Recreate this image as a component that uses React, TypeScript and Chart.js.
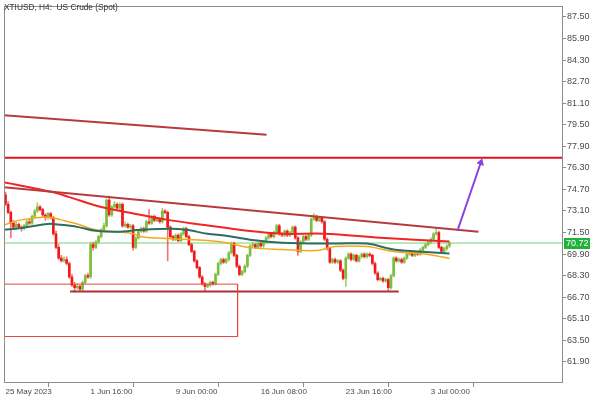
import React, { useEffect, useRef } from "react";
import { Chart, registerables } from "chart.js";

Chart.register(...registerables);

const chartTitle = "XTIUSD, H4:  US Crude (Spot)";

// time axis: bar index of each labelled tick and its text
const timeTickIndex = [0, 32, 64, 96, 128, 160];
const timeTickLabels = ["25 May 2023", "1 Jun 16:00", "9 Jun 00:00", "16 Jun 08:00", "23 Jun 16:00", "3 Jul 00:00"];

// price axis tick values
const priceTicks = [87.5, 85.9, 84.3, 82.7, 81.1, 79.5, 77.9, 76.3, 74.7, 73.1, 71.5, 69.9, 68.3, 66.7, 65.1, 63.5, 61.9];

// H4 candles
const opens = [
  74.3, 73.6, 73.0, 72.2, 71.9, 72.1, 71.9, 71.8, 72.0, 72.3, 72.2, 72.7, 73.1, 73.4, 73.2, 72.8, 72.6, 72.9, 72.6, 71.4,
  70.4, 69.6, 69.4, 69.5, 69.2, 68.2, 67.6, 67.4, 67.5, 67.3, 67.8, 68.3, 68.2, 70.6, 70.4, 70.8, 71.2, 71.7, 72.0, 73.9,
  72.8, 73.4, 73.6, 73.3, 73.6, 72.0, 72.1, 71.9, 72.0, 70.4, 71.1, 71.6, 71.8, 71.6, 72.3, 72.2, 72.7, 72.4, 72.5, 72.3,
  73.1, 73.0, 71.9, 71.2, 71.0, 71.3, 70.9, 71.4, 71.8, 71.2, 70.6, 70.1, 69.4, 68.9, 68.2, 67.7, 67.5, 67.6, 67.8, 67.7,
  68.4, 69.2, 69.5, 69.3, 69.5, 70.0, 70.7, 69.8, 69.0, 68.4, 68.6, 69.0, 69.8, 70.5, 70.6, 70.4, 70.7, 70.5, 70.8, 71.1,
  71.4, 71.2, 71.5, 72.0, 71.4, 71.3, 71.6, 71.3, 71.5, 71.9, 71.1, 70.1, 70.8, 71.2, 71.0, 71.3, 72.5, 72.7, 72.4, 72.6,
  72.3, 71.0, 70.3, 69.3, 69.5, 69.3, 69.4, 68.7, 68.1, 69.6, 69.9, 69.5, 69.8, 69.4, 69.7, 69.9, 69.7, 69.9, 69.8, 69.2,
  68.5, 68.0, 68.1, 67.9, 68.0, 67.4, 68.3, 69.6, 69.4, 69.5, 69.3, 69.6, 69.9, 70.0, 69.8, 70.0, 69.9, 70.2, 70.4, 70.6,
  70.8, 71.0, 71.4, 71.5, 70.4, 70.1, 70.3, 70.5,
];
const highs = [
  74.5, 73.8, 73.1, 72.4, 72.3, 72.2, 72.0, 72.1, 72.4, 72.5, 72.8, 73.2, 73.7, 73.5, 73.3, 72.9, 73.0, 73.0, 72.7, 71.6,
  70.6, 69.8, 69.7, 69.7, 69.3, 68.4, 67.8, 67.7, 67.6, 67.9, 68.4, 68.5, 70.8, 70.8, 70.9, 71.3, 71.8, 72.2, 74.0, 74.2,
  73.5, 73.8, 73.7, 73.7, 73.7, 72.3, 72.2, 72.1, 72.1, 71.2, 71.7, 71.9, 71.9, 72.4, 73.2, 72.8, 72.8, 72.6, 72.6, 73.3,
  73.2, 73.1, 72.0, 71.3, 71.4, 71.4, 71.5, 71.9, 71.9, 71.3, 70.7, 70.2, 69.5, 69.0, 68.3, 67.8, 67.7, 67.9, 67.9, 68.5,
  69.3, 69.6, 69.6, 69.6, 70.1, 70.8, 70.8, 69.9, 69.1, 68.7, 69.1, 69.9, 70.6, 70.8, 70.7, 70.8, 70.8, 70.9, 71.2, 71.5,
  71.5, 71.6, 72.1, 72.1, 71.5, 71.7, 71.7, 71.6, 72.0, 72.0, 71.2, 70.9, 71.3, 71.3, 71.4, 72.6, 72.9, 72.8, 72.7, 72.7,
  72.4, 71.1, 70.4, 69.6, 69.6, 69.5, 69.5, 68.8, 69.7, 70.0, 70.0, 69.9, 69.9, 69.8, 70.0, 70.0, 70.0, 70.0, 69.9, 69.3,
  68.6, 68.2, 68.2, 68.1, 68.1, 68.4, 69.7, 69.7, 69.6, 69.6, 69.7, 70.0, 70.1, 70.1, 70.1, 70.1, 70.3, 70.5, 70.7, 70.9,
  71.1, 71.5, 71.8, 71.6, 70.5, 70.4, 70.6, 70.8,
];
const lows = [
  73.5, 72.9, 71.1, 71.8, 71.8, 71.8, 71.6, 71.7, 71.9, 72.1, 72.1, 72.6, 73.0, 73.1, 72.7, 72.4, 72.5, 72.5, 71.3, 70.3,
  69.5, 69.3, 69.3, 69.1, 68.1, 67.5, 67.1, 67.3, 67.2, 67.2, 67.7, 68.1, 68.1, 70.2, 70.3, 70.7, 71.1, 71.6, 71.9, 72.7,
  72.7, 73.3, 73.2, 73.2, 71.9, 71.9, 71.8, 71.8, 70.2, 70.3, 71.0, 71.5, 71.5, 71.5, 72.1, 72.1, 72.3, 72.3, 72.2, 72.2,
  72.9, 69.4, 71.1, 70.9, 70.9, 70.8, 70.8, 71.3, 71.1, 70.5, 70.0, 69.3, 68.8, 68.1, 67.6, 67.15, 67.4, 67.5, 67.6, 67.6,
  68.3, 69.1, 69.2, 69.2, 69.4, 69.9, 69.7, 68.9, 68.3, 68.3, 68.5, 68.9, 69.7, 70.4, 70.3, 70.3, 70.4, 70.4, 70.7, 71.0,
  71.1, 71.1, 71.4, 71.3, 71.2, 71.2, 71.2, 71.2, 71.4, 71.0, 69.8, 70.0, 70.7, 70.9, 70.9, 71.2, 72.4, 72.3, 72.3, 72.2,
  70.9, 70.2, 69.2, 69.2, 69.2, 69.2, 68.6, 68.0, 67.5, 69.5, 69.4, 69.4, 69.3, 69.3, 69.6, 69.6, 69.6, 69.7, 69.1, 68.4,
  67.9, 67.9, 67.8, 67.8, 67.15, 67.3, 68.2, 69.3, 69.3, 69.2, 69.2, 69.5, 69.8, 69.7, 69.7, 69.8, 69.8, 70.1, 70.3, 70.5,
  70.7, 70.9, 71.3, 70.3, 70.0, 70.0, 70.2, 70.4,
];
const closes = [
  73.6, 73.0, 72.2, 71.9, 72.1, 71.9, 71.8, 72.0, 72.3, 72.2, 72.7, 73.1, 73.4, 73.2, 72.8, 72.6, 72.9, 72.6, 71.4, 70.4,
  69.6, 69.4, 69.5, 69.2, 68.2, 67.6, 67.4, 67.5, 67.3, 67.8, 68.3, 68.2, 70.6, 70.4, 70.8, 71.2, 71.7, 72.0, 73.9, 72.8,
  73.4, 73.6, 73.3, 73.6, 72.0, 72.1, 71.9, 72.0, 70.4, 71.1, 71.6, 71.8, 71.6, 72.3, 72.2, 72.7, 72.4, 72.5, 72.3, 73.1,
  73.0, 71.9, 71.2, 71.0, 71.3, 70.9, 71.4, 71.8, 71.2, 70.6, 70.1, 69.4, 68.9, 68.2, 67.7, 67.5, 67.6, 67.8, 67.7, 68.4,
  69.2, 69.5, 69.3, 69.5, 70.0, 70.7, 69.8, 69.0, 68.4, 68.6, 69.0, 69.8, 70.5, 70.6, 70.4, 70.7, 70.5, 70.8, 71.1, 71.4,
  71.2, 71.5, 72.0, 71.4, 71.3, 71.6, 71.3, 71.5, 71.9, 71.1, 70.1, 70.8, 71.2, 71.0, 71.3, 72.5, 72.7, 72.4, 72.6, 72.3,
  71.0, 70.3, 69.3, 69.5, 69.3, 69.4, 68.7, 68.1, 69.6, 69.9, 69.5, 69.8, 69.4, 69.7, 69.9, 69.7, 69.9, 69.8, 69.2, 68.5,
  68.0, 68.1, 67.9, 68.0, 67.4, 68.3, 69.6, 69.4, 69.5, 69.3, 69.6, 69.9, 70.0, 69.8, 70.0, 69.9, 70.2, 70.4, 70.6, 70.8,
  71.0, 71.4, 71.5, 70.4, 70.1, 70.3, 70.5, 70.72,
];

// moving averages (sampled at bar indices)
const redMaIndex = [-1, 18, 24, 36, 49, 61, 74, 91, 104, 120, 141, 167];
const redMaValue = [75.25, 74.49, 74.13, 73.39, 72.88, 72.44, 72.08, 71.63, 71.41, 71.41, 71.12, 70.83];
const tealMaIndex = [-1, 6, 16, 21, 27, 34, 42, 51, 62, 68, 76, 83, 92, 104, 124, 136, 146, 155, 167];
const tealMaValue = [71.69, 71.84, 72.14, 72.07, 71.92, 71.63, 71.56, 71.7, 71.78, 71.7, 71.41, 71.26, 70.97, 70.75, 70.68, 70.68, 70.24, 70.09, 69.94];
const orangeMaIndex = [-1, 6, 16, 21, 27, 34, 42, 48, 51, 62, 76, 83, 92, 104, 117, 124, 136, 146, 159, 167];
const orangeMaValue = [72.04, 72.44, 72.66, 72.44, 72.14, 71.7, 71.56, 71.41, 71.19, 71.04, 70.9, 70.75, 70.38, 70.24, 70.16, 70.46, 70.46, 70.09, 69.87, 69.58];

// drawn objects
const upperLineIndex = [-1, 98.2];
const upperLineValue = [80.22, 78.75];
const trendLineIndex = [-1, 177.9];
const trendLineValue = [74.87, 71.56];
const resistanceLevel = 77.06;
const supportIndex = [24.3, 147.9];
const supportLevel = 67.13;
const boxIndex = [-1, 87.3];
const boxTop = 67.67;
const boxBottom = 63.78;
const arrowIndex = [170.0, 178.8];
const arrowValue = [71.63, 76.7];

const X_MIN = -0.375;
const X_MAX = 209.7;
const Y_MIN = 60.332;
const Y_MAX = 88.285;

const BULL = "#7cbf3c";
const BEAR = "#f01818";
const BULL_WICK = "rgba(124,191,60,0.75)";
const BEAR_WICK = "rgba(240,24,24,0.6)";
const FRAME = "#8c8c8c";
const FONT = "'Liberation Sans', Arial, sans-serif";

const pts = (xs: number[], ys: number[]) => xs.map((x, i) => ({ x, y: ys[i] }));

export default function App() {
  const ref = useRef<HTMLCanvasElement | null>(null);

  useEffect(() => {
    if (!ref.current) return;
    const bid = closes[closes.length - 1];

    const overlay = {
      id: "mt4overlay",
      afterDraw(chart: any) {
        const { ctx, chartArea } = chart;
        const ys = chart.scales.y;
        ctx.save();
        // frame
        ctx.strokeStyle = FRAME;
        ctx.lineWidth = 1;
        const l = Math.floor(chartArea.left) + 0.5;
        const t = Math.floor(chartArea.top) + 0.5;
        const r = Math.round(chartArea.right) - 0.5;
        const b = Math.round(chartArea.bottom) - 0.5;
        ctx.strokeRect(l, t, r - l, b - t);
        // title
        ctx.fillStyle = "#333";
        ctx.font = `8.3px ${FONT}`;
        ctx.textBaseline = "top";
        ctx.textAlign = "left";
        ctx.fillText(chartTitle, 4, 4);
        // bid label
        const py = Math.round(ys.getPixelForValue(bid));
        ctx.fillStyle = "#1fb33a";
        ctx.fillRect(Math.round(chartArea.right) + 1, py - 5, 26, 11);
        ctx.fillStyle = "#ffffff";
        ctx.font = `9px ${FONT}`;
        ctx.textBaseline = "middle";
        ctx.fillText(bid.toFixed(2), Math.round(chartArea.right) + 3, py + 0.5);
        ctx.restore();
      },
    };

    const chart = new Chart(ref.current, {
      type: "line",
      data: {
        datasets: [
          {
            type: "line",
            data: pts([X_MIN - 1, X_MAX + 1], [bid, bid]),
            borderColor: "#74d174",
            borderWidth: 1,
            pointRadius: 0,
            order: 9,
          } as any,
          {
            type: "bar",
            data: closes.map((c, i) => ({ x: i, y: [lows[i], highs[i]] })),
            backgroundColor: closes.map((c, i) => (c >= opens[i] ? BULL_WICK : BEAR_WICK)),
            barThickness: 1,
            grouped: false,
            order: 8,
          } as any,
          {
            type: "bar",
            data: closes.map((c, i) => ({ x: i, y: [opens[i], c] })),
            backgroundColor: closes.map((c, i) => (c >= opens[i] ? BULL : BEAR)),
            barThickness: 2,
            grouped: false,
            order: 7,
          } as any,
          {
            type: "line",
            data: pts(orangeMaIndex, orangeMaValue),
            borderColor: "#f5a81c",
            borderWidth: 1.5,
            pointRadius: 0,
            tension: 0.35,
            order: 6,
          } as any,
          {
            type: "line",
            data: pts(tealMaIndex, tealMaValue),
            borderColor: "#2c6e60",
            borderWidth: 2,
            pointRadius: 0,
            tension: 0.35,
            order: 5,
          } as any,
          {
            type: "line",
            data: pts(redMaIndex, redMaValue),
            borderColor: "#f22424",
            borderWidth: 2,
            pointRadius: 0,
            tension: 0.35,
            order: 4,
          } as any,
          {
            type: "line",
            data: pts(trendLineIndex, trendLineValue),
            borderColor: "#b83a3c",
            borderWidth: 2,
            pointRadius: 0,
            order: 3,
          } as any,
          {
            type: "line",
            data: pts(upperLineIndex, upperLineValue),
            borderColor: "#b83a3c",
            borderWidth: 2,
            pointRadius: 0,
            order: 3,
          } as any,
          {
            type: "line",
            data: pts(supportIndex, [supportLevel, supportLevel]),
            borderColor: "#a83236",
            borderWidth: 2,
            pointRadius: 0,
            order: 3,
          } as any,
          {
            type: "line",
            data: pts([X_MIN - 1, X_MAX + 1], [resistanceLevel, resistanceLevel]),
            borderColor: "#e0141a",
            borderWidth: 2,
            pointRadius: 0,
            order: 2,
          } as any,
          {
            type: "line",
            data: pts(
              [boxIndex[0], boxIndex[1], boxIndex[1], boxIndex[0]],
              [boxTop, boxTop, boxBottom, boxBottom]
            ),
            borderColor: "#e6453f",
            borderWidth: 1,
            pointRadius: 0,
            order: 2,
          } as any,
          {
            type: "line",
            data: pts(arrowIndex, arrowValue),
            borderColor: "#8a3fe0",
            backgroundColor: "#8a3fe0",
            borderWidth: 2,
            pointRadius: [0, 4.5],
            pointStyle: "triangle",
            pointRotation: 19,
            pointBorderWidth: 0,
            pointBackgroundColor: "#8a3fe0",
            order: 1,
          } as any,
        ],
      },
      options: {
        animation: false,
        responsive: false,
        events: [],
        layout: { padding: { left: 2, top: 2, right: 0, bottom: 0 } },
        plugins: { legend: { display: false }, tooltip: { enabled: false }, title: { display: false } },
        scales: {
          x: {
            type: "linear",
            min: X_MIN,
            max: X_MAX,
            offset: false,
            position: "bottom",
            border: { display: false },
            grid: { drawOnChartArea: false, drawTicks: true, tickLength: 4, tickColor: FRAME, color: FRAME },
            afterBuildTicks: (scale: any) => {
              scale.ticks = timeTickIndex.map((v) => ({ value: v }));
            },
            afterFit: (scale: any) => {
              scale.height = 17;
            },
            ticks: {
              autoSkip: false,
              maxRotation: 0,
              minRotation: 0,
              align: "start",
              padding: 0,
              color: "#4a4a4a",
              font: { family: FONT, size: 8 },
              callback: (_v: any, i: number) => timeTickLabels[i],
            },
          },
          y: {
            type: "linear",
            position: "right",
            min: Y_MIN,
            max: Y_MAX,
            beginAtZero: false,
            border: { display: false },
            grid: { drawOnChartArea: false, drawTicks: true, tickLength: 3, tickColor: FRAME, color: FRAME },
            afterBuildTicks: (scale: any) => {
              scale.ticks = priceTicks.map((v) => ({ value: v }));
            },
            afterFit: (scale: any) => {
              scale.width = 37;
            },
            ticks: {
              autoSkip: false,
              padding: 1,
              color: "#4a4a4a",
              font: { family: FONT, size: 9 },
              callback: (v: any) => Number(v).toFixed(2),
            },
          },
        },
      } as any,
      plugins: [overlay],
    });

    return () => chart.destroy();
  }, []);

  return (
    <div style={{ position: "fixed", left: 0, top: 0, width: 600, height: 400, background: "#ffffff" }}>
      <canvas ref={ref} width={600} height={400} style={{ width: 600, height: 400, display: "block" }} />
    </div>
  );
}
